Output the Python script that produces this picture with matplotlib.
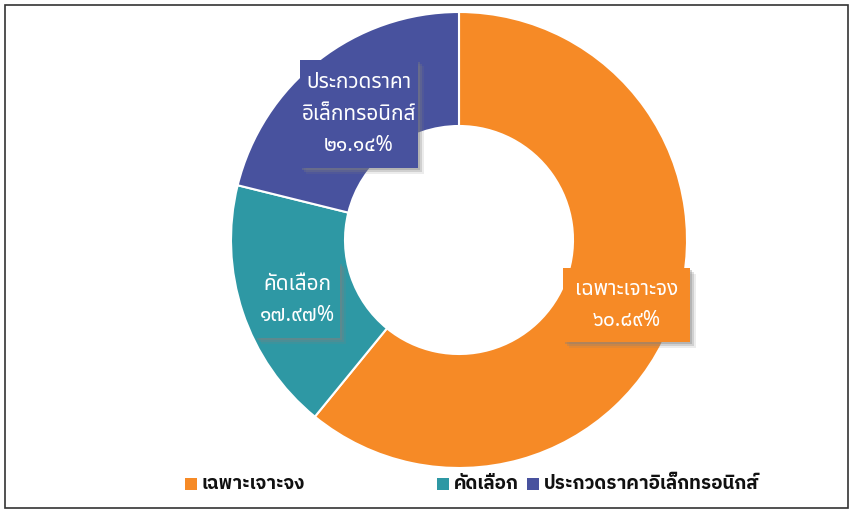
import matplotlib
matplotlib.use("Agg")
import matplotlib.pyplot as plt
from matplotlib import font_manager
from matplotlib.patches import Rectangle

entries = font_manager.fontManager.ttflist
available = {f.name for f in entries}
thai_font = "DejaVu Sans"
for name in ["Noto Sans Thai", "IBM Plex Sans Thai", "Anuphan", "Kanit", "Bai Jamjuree"]:
    if name in available:
        thai_font = name
        break

def has_bold(name):
    return any(f.name == name and (f.weight in ("bold", 700, 600) or
               (isinstance(f.weight, int) and f.weight >= 600)) for f in entries)

legend_font = thai_font
for name in ["Noto Sans Thai", "IBM Plex Sans Thai", "Anuphan", "Kanit"]:
    if name in available and has_bold(name):
        legend_font = name
        break

categories = ["เฉพาะเจาะจง", "คัดเลือก", "ประกวดราคาอิเล็กทรอนิกส์"]
values = [60.89, 17.97, 21.14]
value_labels = ["๖๐.๘๙%", "๑๗.๙๗%", "๒๑.๑๔%"]
box_labels = ["เฉพาะเจาะจง", "คัดเลือก", "ประกวดราคา\nอิเล็กทรอนิกส์"]
colors = ["#F68A26", "#2E98A4", "#48529E"]

plt.rcParams['font.family'] = [thai_font, 'DejaVu Sans']

W, H = 853, 513
fig = plt.figure(figsize=(W/100, H/100), dpi=100)
fig.patch.set_facecolor("white")

# donut axes
r = 228
cx, cy = 459, 240
ax = fig.add_axes([(cx - r)/W, 1 - (cy + r)/H, 2*r/W, 2*r/H])
ax.pie(values, colors=colors, startangle=90, counterclock=False,
       wedgeprops=dict(width=0.5, edgecolor="white", linewidth=1.5))
ax.set_aspect("equal")
ax.set_xlim(-1, 1); ax.set_ylim(-1, 1)
ax.axis("off")

# label boxes (fig px: left, top, right, bottom)
boxes = [(563, 268, 690, 342), (255, 262, 340, 338), (300, 60, 418, 168)]
for (l, t, rr, b), col, lab, val in zip(boxes, colors, box_labels, value_labels):
    for k, a in [(6, 0.15), (4, 0.25), (2, 0.35)]:
        fig.patches.append(Rectangle(((l + k)/W, 1 - (b + k)/H), (rr - l)/W, (b - t)/H,
                                     transform=fig.transFigure, facecolor="#808080",
                                     edgecolor="none", alpha=a, zorder=5))
    fig.patches.append(Rectangle((l/W, 1 - b/H), (rr - l)/W, (b - t)/H,
                                 transform=fig.transFigure, facecolor=col,
                                 edgecolor="none", zorder=6))
    fig.text((l + rr)/2/W, 1 - (t + b)/2/H, lab + "\n" + val, ha="center", va="center",
             color="white", fontsize=15, linespacing=1.65, zorder=7)

# legend
leg_items = [(185, categories[0], colors[0]), (437, categories[1], colors[1]), (527, categories[2], colors[2])]
for x, lab, col in leg_items:
    fig.patches.append(Rectangle((x/W, 1 - 490/H), 12/W, 12/H, transform=fig.transFigure,
                                 facecolor=col, edgecolor="none", zorder=5))
    fig.text((x + 17)/W, 1 - 484/H, lab, ha="left", va="center", fontsize=13.5,
             color="#111111", fontweight="bold", family=[legend_font, 'DejaVu Sans'])

# border
fig.patches.append(Rectangle((5/W, 1 - 508/H), 843/W, 503/H, transform=fig.transFigure,
                             facecolor="none", edgecolor="#333333", linewidth=1.2, zorder=10))

fig.savefig("out.png", dpi=100)
